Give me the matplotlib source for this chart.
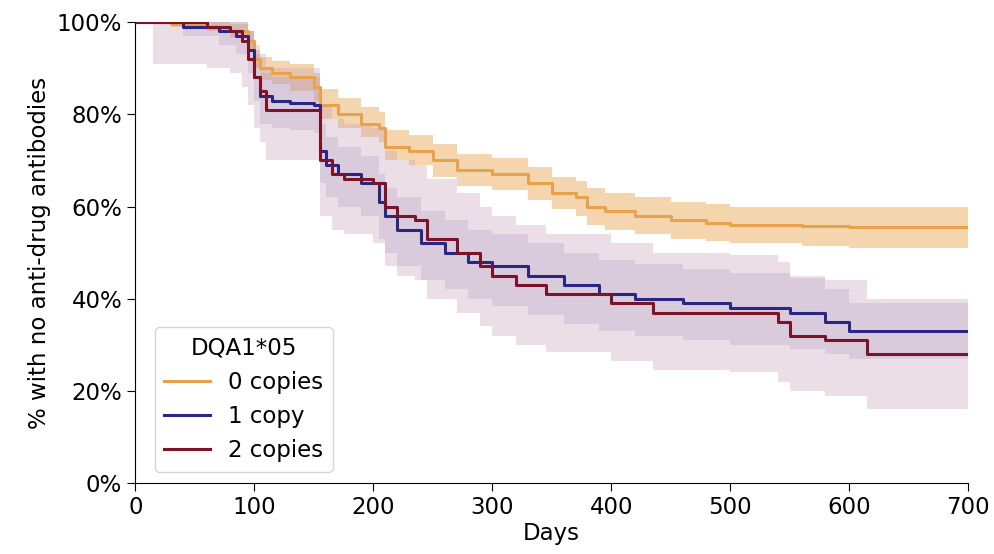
import matplotlib
matplotlib.use("Agg")
import matplotlib.pyplot as plt
from matplotlib.ticker import PercentFormatter

# step data: event days and survival (%) after each step
days0 = [0, 30, 60, 80, 95, 100, 105, 115, 130, 150, 155, 170, 190, 205, 210, 230, 250, 270, 300, 330, 350, 370, 380, 395, 420, 450, 480, 500, 560, 600, 700]
surv0 = [100, 99.5, 99, 98, 96, 92, 90, 89, 88, 86, 82, 80, 78, 77, 73, 72, 70, 68, 67, 65, 63, 62, 60, 59, 58, 57, 56.5, 56, 55.8, 55.5, 55.5]
lo0 = [100, 99, 98, 96.5, 94, 90, 87.5, 86.5, 85, 83, 79, 77, 75, 74, 70, 69, 66.5, 64.5, 63.5, 61.5, 59.5, 58, 56, 55, 54, 53, 52.5, 52, 51.5, 51, 51]
hi0 = [100, 100, 100, 99.5, 98, 94, 92.5, 91.5, 91, 89, 85.5, 83.5, 81.5, 80.5, 76.5, 75.5, 73.5, 71.5, 70.5, 68.5, 66.5, 65.5, 64, 63, 62, 61, 60.5, 60, 60, 60, 60]

days1 = [0, 40, 70, 85, 95, 100, 105, 115, 130, 150, 155, 160, 170, 190, 205, 210, 220, 240, 260, 280, 300, 330, 360, 390, 420, 460, 500, 550, 580, 600, 700]
surv1 = [100, 99, 98, 97, 94, 88, 84, 83, 82.5, 82, 72, 69, 67, 65, 61, 58, 55, 52, 50, 48, 47, 45, 43, 41, 40, 39, 38, 37, 35, 33, 33]
lo1 = [100, 97, 95, 93, 89, 83, 78, 77, 76.5, 76, 65, 62, 60, 58, 53, 50, 47, 44, 42, 40, 38.5, 36.5, 34.5, 33, 32, 31, 30, 29, 28, 27, 27]
hi1 = [100, 100, 100, 100, 98, 93, 89, 88, 88, 88, 78, 75, 73, 71, 67, 64, 62, 59, 57, 55, 54, 52, 50, 48.5, 47.5, 46.5, 45.5, 44.5, 42, 39, 39]

days2 = [0, 15, 60, 80, 90, 95, 100, 105, 110, 150, 155, 165, 175, 200, 210, 220, 235, 245, 270, 290, 300, 320, 345, 400, 435, 500, 540, 550, 580, 615, 700]
surv2 = [100, 100, 99, 98, 96, 92, 88, 85, 81, 81, 70, 67, 66, 65, 60, 58, 57, 53, 50, 47, 45, 43, 41, 39, 37, 37, 35, 32, 31, 28, 28]
lo2 = [100, 91, 90, 89, 86, 82, 77, 74, 70, 70, 58, 55, 54, 52, 47, 45, 44, 40, 37, 34, 32, 30, 28.5, 26.5, 24.5, 24, 22, 20, 19, 16, 16]
hi2 = [100, 100, 100, 100, 100, 98, 95, 93, 90, 90, 82, 79, 78, 77, 72, 70, 69, 66, 63, 60, 58, 56, 54, 52, 50, 49.5, 48, 45, 44, 40, 40]

groups = [
    ("0 copies", days0, surv0, lo0, hi0, "#E8A24C", "#E8A24C", 0.45),
    ("1 copy", days1, surv1, lo1, hi1, "#2A2683", "#8E8AC0", 0.25),
    ("2 copies", days2, surv2, lo2, hi2, "#7A1426", "#C9A3B8", 0.35),
]

plt.rcParams["font.family"] = ["DejaVu Sans"]
plt.rcParams["font.size"] = 16.5
plt.rcParams["xtick.major.size"] = 6
plt.rcParams["ytick.major.size"] = 6

fig, ax = plt.subplots(figsize=(9.95, 5.54), dpi=100)
for label, d, s, lo, hi, c, fc, a in groups:
    ax.fill_between(d, lo, hi, step="post", color=fc, alpha=a, linewidth=0)
for label, d, s, lo, hi, c, fc, a in groups:
    ax.plot(d, s, drawstyle="steps-post", color=c, linewidth=2.2, label=label)

ax.set_xlim(0, 700)
ax.set_ylim(0, 100)
ax.yaxis.set_major_formatter(PercentFormatter(decimals=0))
ax.set_xlabel("Days", labelpad=2)
ax.set_ylabel("% with no anti-drug antibodies")
ax.spines["top"].set_visible(False)
ax.spines["right"].set_visible(False)
ax.legend(title="DQA1*05", loc="lower left", bbox_to_anchor=(0.01, 0.0),
          fontsize=16.5, title_fontsize=16.5)
fig.subplots_adjust(left=0.136, right=0.973, top=0.96, bottom=0.128)
fig.savefig("out.png")
